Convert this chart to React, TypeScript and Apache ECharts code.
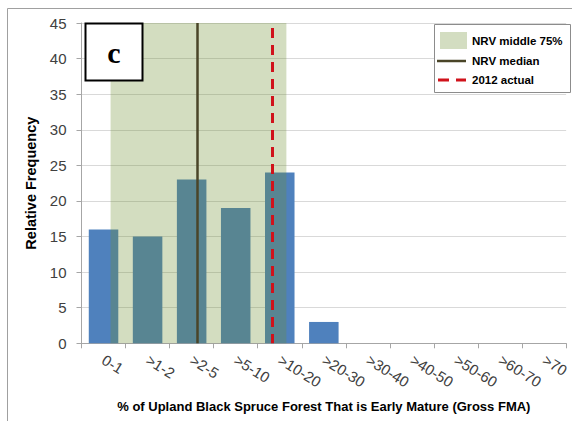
import React, { useEffect, useRef } from "react";
import * as echarts from "echarts";

const categories = [
  "0-1", ">1-2", ">2-5", ">5-10", ">10-20", ">20-30",
  ">30-40", ">40-50", ">50-60", ">60-70", ">70",
];
const relativeFrequency = [16, 15, 23, 19, 24, 3, 0, 0, 0, 0, 0];
const yMin = 0;
const yMax = 45;
const yInterval = 5;
// NRV positions in category units (0 = left edge of the first category)
const nrvMiddle75 = [0.66, 4.65];
const nrvMedian = 2.62;
const actual2012 = 4.33;
const actualTop = 44.3;

const legendItems = ["NRV middle 75%", "NRV median", "2012 actual"];

const FONT = "'Liberation Sans', Arial, sans-serif";

export default function App() {
  const ref = useRef<HTMLDivElement>(null);
  useEffect(() => {
    if (!ref.current) return;
    const chart = echarts.init(ref.current, null, { renderer: "svg" });
    const option: any = {
      animation: false,
      backgroundColor: "#ffffff",
      textStyle: { fontFamily: FONT },
      grid: { left: 81.5, right: 1, top: 23, bottom: 77.7, containLabel: false },
      xAxis: [
        {
          type: "category",
          data: categories,
          boundaryGap: true,
          axisLine: { show: true, lineStyle: { color: "#A6A6A6", width: 1 } },
          axisTick: { show: true, alignWithLabel: false, length: 5, lineStyle: { color: "#A6A6A6" } },
          axisLabel: {
            interval: 0,
            rotate: -32,
            margin: 15,
            fontSize: 15,
            color: "#404040",
            fontFamily: FONT,
          },
          splitLine: { show: false },
          name: "% of Upland Black Spruce Forest That is Early Mature (Gross FMA)",
          nameLocation: "middle",
          nameGap: 57,
          nameTextStyle: { fontSize: 13, fontWeight: "bold", color: "#000", fontFamily: FONT },
        },
        {
          type: "value",
          min: 0,
          max: categories.length,
          show: false,
        },
      ],
      yAxis: {
        type: "value",
        min: yMin,
        max: yMax,
        interval: yInterval,
        axisLine: { show: true, lineStyle: { color: "#A6A6A6", width: 1 } },
        axisTick: { show: true, length: 5, lineStyle: { color: "#A6A6A6" } },
        axisLabel: { fontSize: 15, color: "#404040", margin: 15, fontFamily: FONT },
        splitLine: { show: true, lineStyle: { color: "#D9D9D9", width: 1 } },
        name: "Relative Frequency",
        nameLocation: "middle",
        nameGap: 42,
        nameTextStyle: { fontSize: 14.5, fontWeight: "bold", color: "#000", fontFamily: FONT },
      },
      series: [
        {
          type: "bar",
          data: relativeFrequency,
          xAxisIndex: 0,
          barCategoryGap: "33%",
          itemStyle: { color: "#4F81BD" },
          z: 2,
        },
        {
          type: "line",
          xAxisIndex: 1,
          data: [[0, 0]],
          showSymbol: false,
          symbol: "none",
          lineStyle: { opacity: 0 },
          z: 5,
          markArea: {
            silent: true,
            z: 4,
            itemStyle: { color: "rgba(108,142,48,0.3)" },
            data: [[{ xAxis: nrvMiddle75[0] }, { xAxis: nrvMiddle75[1] }]],
          },
          markLine: {
            silent: true,
            z: 6,
            symbol: "none",
            label: { show: false },
            data: [
              {
                xAxis: nrvMedian,
                lineStyle: { color: "#4A4528", width: 2.5, type: "solid" },
              },
              [
                { coord: [actual2012, actualTop], lineStyle: { color: "#D0121B", width: 3, type: [10, 7] } },
                { coord: [actual2012, 0] },
              ],
            ],
          },
        },
      ],
      graphic: [
        {
          type: "rect",
          shape: { x: 7.5, y: 8.5, width: 700, height: 600 },
          style: { fill: "none", stroke: "#A0A0A0", lineWidth: 1 },
          z: 100,
          silent: true,
        },
        {
          type: "rect",
          shape: { x: 85.5, y: 23.5, width: 57, height: 57 },
          style: { fill: "#ffffff", stroke: "#000000", lineWidth: 2 },
          z: 100,
        },
        {
          type: "text",
          x: 114,
          y: 52,
          style: {
            text: "c",
            font: "bold 30px 'Liberation Serif', 'DejaVu Serif', serif",
            fill: "#000",
            align: "center",
            verticalAlign: "middle",
          },
          z: 101,
        },
        {
          type: "rect",
          shape: { x: 434.5, y: 24.5, width: 136, height: 68 },
          style: { fill: "#ffffff", stroke: "#8C8C8C", lineWidth: 1 },
          z: 100,
        },
        {
          type: "rect",
          shape: { x: 440, y: 32, width: 27, height: 17 },
          style: { fill: "#D3DDC1" },
          z: 101,
        },
        {
          type: "line",
          shape: { x1: 437, y1: 61, x2: 466, y2: 61 },
          style: { stroke: "#4A4528", lineWidth: 2.5 },
          z: 101,
        },
        {
          type: "line",
          shape: { x1: 438, y1: 80, x2: 466, y2: 80 },
          style: { stroke: "#D0121B", lineWidth: 3, lineDash: [11, 7] },
          z: 101,
        },
        ...legendItems.map((t, i) => ({
          type: "text",
          x: 472,
          y: 41 + i * 19.5,
          style: {
            text: t,
            font: `bold 11.5px ${FONT}`,
            fill: "#000",
            verticalAlign: "middle",
          },
          z: 101,
        })),
      ],
    };
    chart.setOption(option);
    return () => chart.dispose();
  }, []);
  return <div ref={ref} style={{ width: 572, height: 421, position: "absolute", left: 0, top: 0 }} />;
}
